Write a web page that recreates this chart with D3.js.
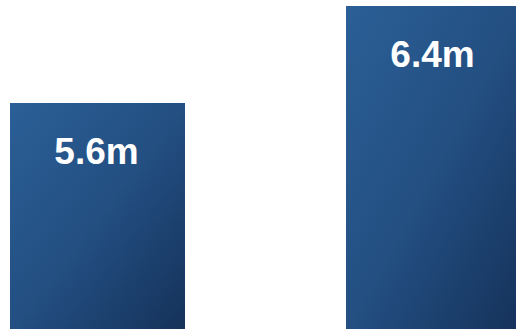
<!DOCTYPE html>
<html>
<head>
<meta charset="utf-8">
<script src="https://cdn.jsdelivr.net/npm/d3@7"></script>
<style>
  html, body { margin: 0; padding: 0; background: #fff; overflow: hidden; }
  svg { display: block; }
</style>
</head>
<body>
<script>
// Chart data
const categories = ["Period 1", "Period 2"];
const values = [5.6, 6.4];
const valueLabels = ["5.6m", "6.4m"];

const width = 516, height = 329;

const svg = d3.select("body").append("svg")
  .attr("width", width)
  .attr("height", height);

const x = d3.scaleBand()
  .domain(categories)
  .range([10, 521])
  .paddingInner(0.4792)
  .paddingOuter(0);

// Value axis starts at zero; the lower part of the bars runs past the frame
const y = d3.scaleLinear()
  .domain([0, 6.4])
  .range([782, 6]);

const data = categories.map((c, i) => ({ c, v: values[i], label: valueLabels[i], id: "barGrad" + i }));

// Corner-to-corner gradient over the visible part of each bar:
// isolines run parallel to the anti-diagonal, lightest top-left, darkest bottom-right.
function gradVector(d) {
  const x0 = x(d.c), y0 = y(d.v);
  const w = x.bandwidth(), h = Math.min(y(0), height) - y0;
  const k = 2 * w * h / (w * w + h * h);
  return { x1: x0, y1: y0, x2: x0 + h * k, y2: y0 + w * k };
}

const defs = svg.append("defs");
const grads = defs.selectAll("linearGradient")
  .data(data)
  .join("linearGradient")
  .attr("id", d => d.id)
  .attr("gradientUnits", "userSpaceOnUse")
  .each(function (d) {
    const g = gradVector(d);
    d3.select(this).attr("x1", g.x1).attr("y1", g.y1).attr("x2", g.x2).attr("y2", g.y2);
  });
grads.append("stop").attr("offset", "0%").attr("stop-color", "#2b5f96");
grads.append("stop").attr("offset", "50%").attr("stop-color", "#234f82");
grads.append("stop").attr("offset", "100%").attr("stop-color", "#15325a");

const bars = svg.selectAll("g.bar")
  .data(data)
  .join("g")
  .attr("class", "bar");

bars.append("rect")
  .attr("x", d => x(d.c))
  .attr("y", d => y(d.v))
  .attr("width", x.bandwidth())
  .attr("height", d => y(0) - y(d.v))
  .attr("fill", d => `url(#${d.id})`);

bars.append("text")
  .attr("x", d => x(d.c) + x.bandwidth() / 2 - 1)
  .attr("y", d => y(d.v) + 61)
  .attr("text-anchor", "middle")
  .attr("fill", "#ffffff")
  .attr("font-family", "'Liberation Sans', Arial, sans-serif")
  .attr("font-weight", "bold")
  .attr("font-size", "37px")
  .text(d => d.label);
</script>
</body>
</html>
